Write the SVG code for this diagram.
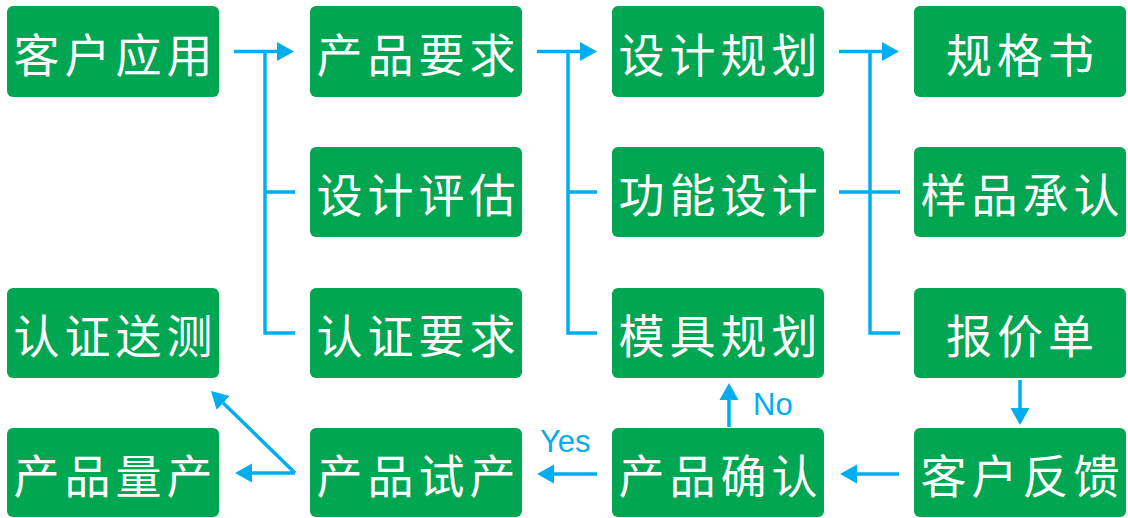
<svg xmlns="http://www.w3.org/2000/svg" width="1128" height="518" viewBox="0 0 1128 518">
<style>
.box{fill:#00A651}
.t{font-family:"Noto Sans CJK SC","Noto Sans",sans-serif;font-size:46px;fill:#fff;text-anchor:middle;dominant-baseline:central;letter-spacing:5px}
.c{stroke:#00AEEF;stroke-width:3.5;fill:none}
.lbl{font-family:"Liberation Sans",Arial,sans-serif;font-size:31px;fill:#00AEEF}
</style>
<defs>
<marker id="ah" markerUnits="userSpaceOnUse" markerWidth="18" markerHeight="20" refX="0" refY="10" orient="auto">
<path d="M0,0.5 L17,10 L0,19.5 Z" fill="#00AEEF"/>
</marker>
</defs>
<rect width="1128" height="518" fill="#fff"/>
<g id="n1"><rect class="box" x="7" y="6" width="212" height="91" rx="6"/><text class="t" x="115.5" y="51.5">客户应用</text></g>
<g id="n2"><rect class="box" x="310" y="6" width="212" height="91" rx="6"/><text class="t" x="418.5" y="51.5">产品要求</text></g>
<g id="n3"><rect class="box" x="612" y="6" width="212" height="91" rx="6"/><text class="t" x="720.5" y="51.5">设计规划</text></g>
<g id="n4"><rect class="box" x="914" y="6" width="212" height="91" rx="6"/><text class="t" x="1022.5" y="51.5">规格书</text></g>
<g id="n5"><rect class="box" x="310" y="147" width="212" height="90" rx="6"/><text class="t" x="418.5" y="192">设计评估</text></g>
<g id="n6"><rect class="box" x="612" y="147" width="212" height="90" rx="6"/><text class="t" x="720.5" y="192">功能设计</text></g>
<g id="n7"><rect class="box" x="914" y="147" width="212" height="90" rx="6"/><text class="t" x="1022.5" y="192">样品承认</text></g>
<g id="n8"><rect class="box" x="7" y="288" width="212" height="90" rx="6"/><text class="t" x="115.5" y="333">认证送测</text></g>
<g id="n9"><rect class="box" x="310" y="288" width="212" height="90" rx="6"/><text class="t" x="418.5" y="333">认证要求</text></g>
<g id="n10"><rect class="box" x="612" y="288" width="212" height="90" rx="6"/><text class="t" x="720.5" y="333">模具规划</text></g>
<g id="n11"><rect class="box" x="914" y="288" width="212" height="90" rx="6"/><text class="t" x="1022.5" y="333">报价单</text></g>
<g id="n12"><rect class="box" x="7" y="428" width="212" height="89" rx="6"/><text class="t" x="115.5" y="472.5">产品量产</text></g>
<g id="n13"><rect class="box" x="310" y="428" width="212" height="89" rx="6"/><text class="t" x="418.5" y="472.5">产品试产</text></g>
<g id="n14"><rect class="box" x="612" y="428" width="212" height="89" rx="6"/><text class="t" x="720.5" y="472.5">产品确认</text></g>
<g id="n15"><rect class="box" x="914" y="428" width="212" height="89" rx="6"/><text class="t" x="1022.5" y="472.5">客户反馈</text></g>
<g id="connectors">
<path class="c" d="M234,51.5 H277" marker-end="url(#ah)"/>
<path class="c" d="M265,51.5 V333 H295 M265,192 H295"/>
<path class="c" d="M537,51.5 H580" marker-end="url(#ah)"/>
<path class="c" d="M568,51.5 V333 H597 M568,192 H597"/>
<path class="c" d="M839,51.5 H882" marker-end="url(#ah)"/>
<path class="c" d="M870,51.5 V333 H900 M839,192 H900"/>
<path class="c" d="M1020,380 V408" marker-end="url(#ah)"/>
<path class="c" d="M899,474 H857" marker-end="url(#ah)"/>
<path class="c" d="M597,474 H554" marker-end="url(#ah)"/>
<path class="c" d="M729,427 V400" marker-end="url(#ah)"/>
<path class="c" d="M295,473 H252" marker-end="url(#ah)"/>
<path class="c" d="M295,473 L223.2,402.9" marker-end="url(#ah)"/>
</g>
<text class="lbl" x="540" y="452">Yes</text>
<text class="lbl" x="753" y="415">No</text>
</svg>
